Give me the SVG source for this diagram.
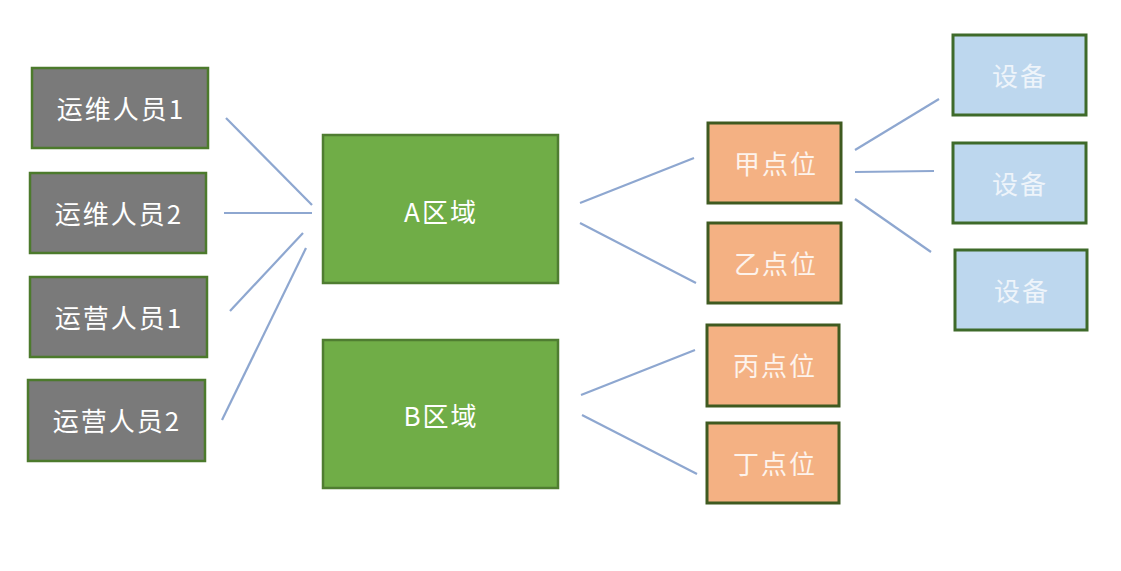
<svg xmlns="http://www.w3.org/2000/svg" width="1121" height="571" viewBox="0 0 1121 571">
<style>
.box{stroke-width:2.5}
.gray{fill:#7a7a7a;stroke:#4c7a2c}
.green{fill:#70ad47;stroke:#4f7d31}
.orange{fill:#f4b183;stroke:#3f5a20;stroke-width:3}
.blue{fill:#bdd7ee;stroke:#3e6a2a;stroke-width:3}
text{font-family:"Noto Sans CJK SC","Liberation Sans",sans-serif;font-size:26px;letter-spacing:2px;fill:#ffffff;text-anchor:middle;dominant-baseline:central}
.lt{fill:#fdf3ec}
.bt{fill:#eef4fa}
#connectors line{stroke:#8ea7d0;stroke-width:2.2}
</style>
<rect width="1121" height="571" fill="#ffffff"/>
<g id="connectors">
<line x1="226" y1="118" x2="312" y2="205"/>
<line x1="224" y1="213" x2="312" y2="213"/>
<line x1="230" y1="311" x2="303" y2="233"/>
<line x1="222" y1="420" x2="306" y2="248"/>
<line x1="580" y1="203" x2="694" y2="158"/>
<line x1="580" y1="223" x2="696" y2="283"/>
<line x1="581" y1="395" x2="695" y2="350"/>
<line x1="582" y1="415" x2="697" y2="474"/>
<line x1="855" y1="150" x2="939" y2="99"/>
<line x1="855" y1="172" x2="934" y2="171"/>
<line x1="855" y1="199" x2="931" y2="252"/>
</g>
<g id="op1"><rect class="box gray" x="32" y="68" width="176" height="80"/><text x="121" y="107">运维人员1</text></g>
<g id="op2"><rect class="box gray" x="30" y="173" width="176" height="80"/><text x="119" y="212">运维人员2</text></g>
<g id="yy1"><rect class="box gray" x="30" y="277" width="177" height="80"/><text x="119" y="316">运营人员1</text></g>
<g id="yy2"><rect class="box gray" x="28" y="380" width="177" height="81"/><text x="117" y="419">运营人员2</text></g>
<g id="areaA"><rect class="box green" x="323" y="135" width="235" height="148"/><text x="441" y="210">A区域</text></g>
<g id="areaB"><rect class="box green" x="323" y="340" width="235" height="148"/><text x="441" y="414">B区域</text></g>
<g id="jia"><rect class="box orange" x="708" y="123" width="133" height="80"/><text class="lt" x="776" y="162">甲点位</text></g>
<g id="yi"><rect class="box orange" x="708" y="223" width="133" height="80"/><text class="lt" x="776" y="262">乙点位</text></g>
<g id="bing"><rect class="box orange" x="707" y="325" width="132" height="81"/><text class="lt" x="775" y="364">丙点位</text></g>
<g id="ding"><rect class="box orange" x="707" y="423" width="132" height="80"/><text class="lt" x="775" y="462">丁点位</text></g>
<g id="dev1"><rect class="box blue" x="953" y="35" width="133" height="80"/><text class="bt" x="1020" y="74">设备</text></g>
<g id="dev2"><rect class="box blue" x="953" y="143" width="133" height="80"/><text class="bt" x="1020" y="182">设备</text></g>
<g id="dev3"><rect class="box blue" x="955" y="250" width="132" height="80"/><text class="bt" x="1022" y="289">设备</text></g>
</svg>
